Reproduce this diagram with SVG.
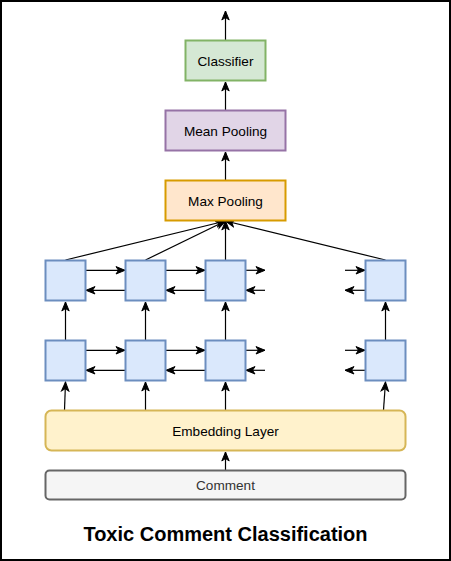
<svg xmlns="http://www.w3.org/2000/svg" width="451" height="561" viewBox="0 0 451 561">
<defs>
<marker id="arr" markerWidth="12" markerHeight="10" refX="10" refY="5" orient="auto" markerUnits="userSpaceOnUse">
<path d="M1,1.3 L10,5 L1,8.7 L3.5,5 Z" fill="#000" stroke="#000" stroke-width="1"/>
</marker>
</defs>
<style>
.lbl{font-family:"Liberation Sans",Arial,sans-serif;font-size:13.6px;text-anchor:middle;fill:#000}
.cell{fill:#dae8fc;stroke:#6c8ebf;stroke-width:2}
.c{stroke:#000;stroke-width:1.2;fill:none;marker-end:url(#arr)}
</style>
<rect x="1" y="1" width="449" height="559" fill="#fff" stroke="#000" stroke-width="2"/>
<g id="connectors">
<line class="c" x1="225.5" y1="40" x2="225.5" y2="11"/>
<line class="c" x1="225.5" y1="110" x2="225.5" y2="82"/>
<line class="c" x1="225.5" y1="180" x2="225.5" y2="152"/>
<line class="c" x1="65.5" y1="260" x2="225.5" y2="221"/>
<line class="c" x1="145.5" y1="260" x2="225.5" y2="221"/>
<line class="c" x1="225.5" y1="260" x2="225.5" y2="221"/>
<line class="c" x1="385.5" y1="260" x2="225.5" y2="221"/>
<line class="c" x1="86" y1="270.3" x2="125" y2="270.3"/>
<line class="c" x1="166" y1="270.3" x2="205" y2="270.3"/>
<line class="c" x1="246" y1="270.3" x2="265" y2="270.3"/>
<line class="c" x1="345" y1="270.3" x2="365" y2="270.3"/>
<line class="c" x1="125" y1="290.3" x2="86" y2="290.3"/>
<line class="c" x1="205" y1="290.3" x2="166" y2="290.3"/>
<line class="c" x1="265" y1="290.3" x2="246" y2="290.3"/>
<line class="c" x1="365" y1="290.3" x2="345" y2="290.3"/>
<line class="c" x1="86" y1="350.3" x2="125" y2="350.3"/>
<line class="c" x1="166" y1="350.3" x2="205" y2="350.3"/>
<line class="c" x1="246" y1="350.3" x2="265" y2="350.3"/>
<line class="c" x1="345" y1="350.3" x2="365" y2="350.3"/>
<line class="c" x1="125" y1="370.3" x2="86" y2="370.3"/>
<line class="c" x1="205" y1="370.3" x2="166" y2="370.3"/>
<line class="c" x1="265" y1="370.3" x2="246" y2="370.3"/>
<line class="c" x1="365" y1="370.3" x2="345" y2="370.3"/>
<line class="c" x1="65.5" y1="340" x2="65.5" y2="302"/>
<line class="c" x1="145.5" y1="340" x2="145.5" y2="302"/>
<line class="c" x1="225.5" y1="340" x2="225.5" y2="302"/>
<line class="c" x1="385.5" y1="340" x2="385.5" y2="302"/>
<line class="c" x1="64.5" y1="410" x2="65.5" y2="382"/>
<line class="c" x1="145.5" y1="410" x2="145.5" y2="382"/>
<line class="c" x1="225.5" y1="410" x2="225.5" y2="382"/>
<line class="c" x1="383.5" y1="410" x2="385.5" y2="382"/>
<line class="c" x1="225.5" y1="470" x2="225.5" y2="452"/>
</g>
<g id="classifier">
<rect x="185.5" y="40.5" width="80" height="40" fill="#d5e8d4" stroke="#82b366" stroke-width="2"/>
<text class="lbl" x="225.5" y="65.5">Classifier</text>
</g>
<g id="mean-pooling">
<rect x="165.5" y="110.5" width="120" height="40" fill="#e1d5e7" stroke="#9673a6" stroke-width="2"/>
<text class="lbl" x="225.5" y="135.5">Mean Pooling</text>
</g>
<g id="max-pooling">
<rect x="165.5" y="180.5" width="120" height="40" fill="#ffe6cc" stroke="#d79b00" stroke-width="2"/>
<text class="lbl" x="225.5" y="205.5">Max Pooling</text>
</g>
<g id="cell-u1"><rect class="cell" x="45.5" y="260.5" width="40" height="40"/></g>
<g id="cell-u2"><rect class="cell" x="125.5" y="260.5" width="40" height="40"/></g>
<g id="cell-u3"><rect class="cell" x="205.5" y="260.5" width="40" height="40"/></g>
<g id="cell-u4"><rect class="cell" x="365.5" y="260.5" width="40" height="40"/></g>
<g id="cell-l1"><rect class="cell" x="45.5" y="340.5" width="40" height="40"/></g>
<g id="cell-l2"><rect class="cell" x="125.5" y="340.5" width="40" height="40"/></g>
<g id="cell-l3"><rect class="cell" x="205.5" y="340.5" width="40" height="40"/></g>
<g id="cell-l4"><rect class="cell" x="365.5" y="340.5" width="40" height="40"/></g>
<g id="embedding">
<rect x="45.5" y="410.5" width="360" height="40" rx="6" fill="#fff2cc" stroke="#d6b656" stroke-width="2"/>
<text class="lbl" x="225.5" y="435.5">Embedding Layer</text>
</g>
<g id="comment">
<rect x="45.5" y="470.5" width="360" height="29" rx="4" fill="#f5f5f5" stroke="#666666" stroke-width="2"/>
<text class="lbl" x="225.5" y="490" style="fill:#333333">Comment</text>
</g>
<g id="title">
<text x="225.5" y="541" style="font-family:'Liberation Sans',Arial,sans-serif;font-size:20px;font-weight:bold;text-anchor:middle;fill:#000">Toxic Comment Classification</text>
</g>
</svg>
